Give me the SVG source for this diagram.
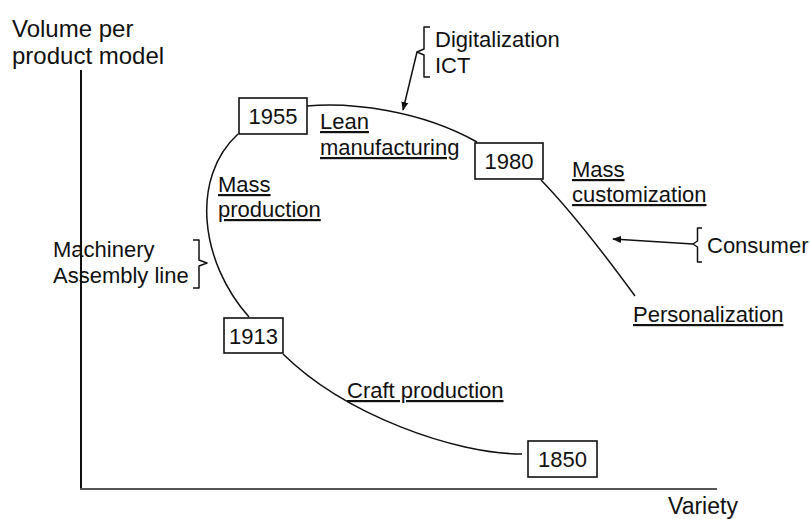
<svg xmlns="http://www.w3.org/2000/svg" width="810" height="519" viewBox="0 0 810 519">
<style>
text{font-family:"Liberation Sans",Arial,sans-serif;font-size:22px;fill:#111}
.u{text-decoration:underline}
.box{fill:#fff;stroke:#111;stroke-width:1.6}
.curve{fill:none;stroke:#111;stroke-width:1.5}
.br{fill:none;stroke:#111;stroke-width:1.5;stroke-linejoin:round}
.num{text-anchor:middle}
</style>
<defs>
<marker id="ah" viewBox="0 0 10 10" refX="9" refY="5" markerWidth="9" markerHeight="9" markerUnits="userSpaceOnUse" orient="auto">
<path d="M0,1 L10,5 L0,9 z" fill="#111"/>
</marker>
</defs>
<g id="axes">
<line x1="81" y1="70" x2="81" y2="490" stroke="#111" stroke-width="2"/>
<line x1="80" y1="489" x2="717" y2="489" stroke="#555" stroke-width="2"/>
<text x="12" y="37" style="font-size:24px">Volume per</text>
<text x="12" y="64" style="font-size:24px">product model</text>
<text x="668" y="514" style="font-size:23px">Variety</text>
</g>
<g id="connectors">
<path class="curve" d="M522,454 C455,454 345,415 283,354"/>
<path class="curve" d="M249,317 C200,262 190,178 238,134"/>
<path class="curve" d="M307,106 C350,102 420,110 477,142"/>
<path class="curve" d="M541,180 C572,212 605,255 635,296"/>
<line x1="417" y1="52" x2="403" y2="110" stroke="#111" stroke-width="1.5" marker-end="url(#ah)"/>
<line x1="693" y1="244" x2="613" y2="239" stroke="#111" stroke-width="1.5" marker-end="url(#ah)"/>
</g>
<g id="n1850"><rect class="box" x="528" y="441" width="69" height="36"/><text class="num" x="562.5" y="467">1850</text></g>
<g id="n1913"><rect class="box" x="224" y="318" width="59" height="35"/><text class="num" x="253.5" y="343.5">1913</text></g>
<g id="n1955"><rect class="box" x="239" y="98" width="68" height="36"/><text class="num" x="273" y="124">1955</text></g>
<g id="n1980"><rect class="box" x="475" y="143" width="68" height="36"/><text class="num" x="509" y="169">1980</text></g>
<g id="craft"><text class="u" x="347" y="398">Craft production</text></g>
<g id="mass"><text class="u" x="218" y="192">Mass</text><text class="u" x="218" y="217">production</text></g>
<g id="lean"><text class="u" x="320" y="129">Lean</text><text class="u" x="320" y="155">manufacturing</text></g>
<g id="masscust"><text class="u" x="572" y="177">Mass</text><text class="u" x="572" y="202">customization</text></g>
<g id="personal"><text class="u" x="633" y="322">Personalization</text></g>
<g id="machinery">
<text x="53" y="257">Machinery</text>
<text x="53" y="283">Assembly line</text>
<path class="br" d="M193,240 L199,240 L199,260 L207,263 L199,266 L199,288 L193,288"/>
</g>
<g id="digital">
<text x="435" y="47">Digitalization</text>
<text x="435" y="73">ICT</text>
<path class="br" d="M430,27 L424,27 L424,49 L417,52 L424,55 L424,77 L430,77"/>
</g>
<g id="consumer">
<text x="707" y="253">Consumer</text>
<path class="br" d="M702,228 L697.5,228 L697.5,241 L693,244 L697.5,247 L697.5,262 L702,262"/>
</g>
</svg>
